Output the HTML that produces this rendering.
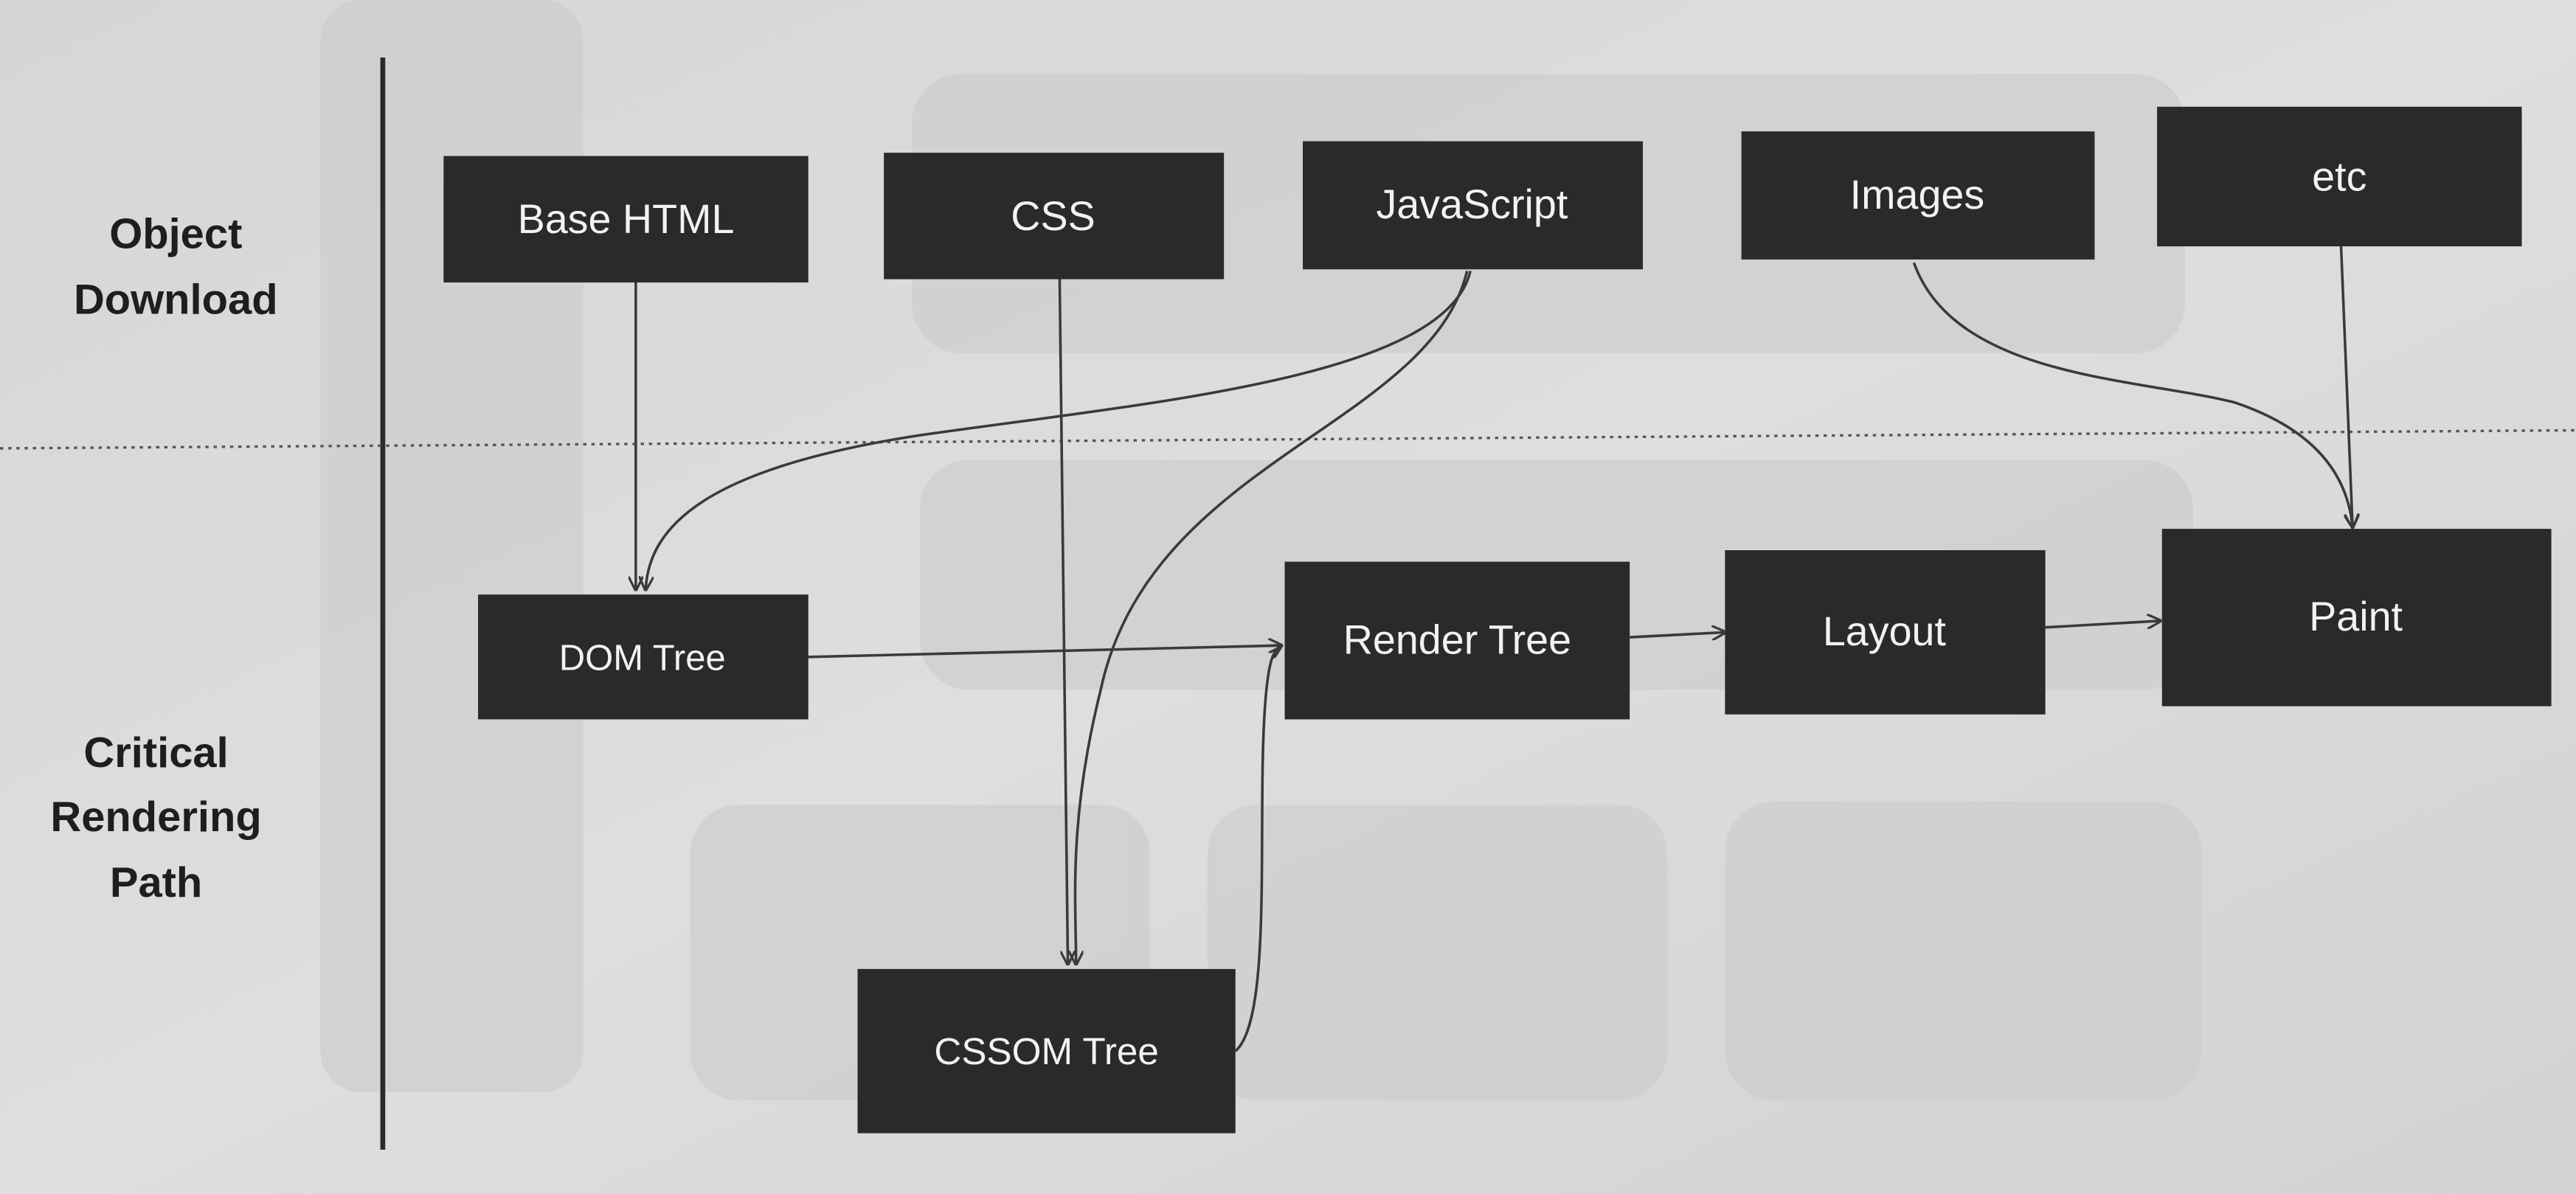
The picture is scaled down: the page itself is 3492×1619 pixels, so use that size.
<!DOCTYPE html>
<html><head><meta charset="utf-8"><style>
html,body{margin:0;padding:0;width:3492px;height:1619px;overflow:hidden;background:#d9d9d9}
svg{display:block}
</style></head><body>
<svg width="3492" height="1619" viewBox="0 0 1568 727" preserveAspectRatio="none" xmlns="http://www.w3.org/2000/svg">
<defs>
<linearGradient id="bg" x1="0" y1="0" x2="1" y2="1">
<stop offset="0" stop-color="#d6d6d6"/><stop offset="0.5" stop-color="#dedede"/><stop offset="1" stop-color="#d2d2d2"/>
</linearGradient>
<marker id="ar" viewBox="0 0 10 10" refX="9" refY="5" markerWidth="9" markerHeight="9" orient="auto" markerUnits="userSpaceOnUse">
<path d="M0,0 L10,5 L0,10" fill="none" stroke="#3a3a3a" stroke-width="1.6"/>
</marker>
</defs>
<rect width="1568" height="727" fill="url(#bg)"/>
<!-- ghost shapes -->
<g fill="#cdcdcd" opacity="0.7">
<rect x="195" y="0" width="160" height="665" rx="25"/>
<rect x="555" y="45" width="775" height="170" rx="30"/>
<rect x="560" y="280" width="775" height="140" rx="30"/>
<rect x="420" y="490" width="280" height="180" rx="30"/>
<rect x="735" y="490" width="280" height="180" rx="30"/>
<rect x="1050" y="488" width="290" height="182" rx="30"/>
</g>
<!-- vertical divider -->
<line x1="233" y1="35" x2="233" y2="700" stroke="#2a2a2a" stroke-width="3"/>
<!-- dotted line -->
<line x1="0" y1="273" x2="1568" y2="262" stroke="#555" stroke-width="1.5" stroke-dasharray="2,3"/>
<!-- side labels -->
<g font-family="Liberation Sans, sans-serif" font-weight="bold" font-size="26" fill="#1e1e1e" text-anchor="middle">
<text x="107" y="151">Object</text>
<text x="107" y="191">Download</text>
<text x="95" y="467">Critical</text>
<text x="95" y="506">Rendering</text>
<text x="95" y="546">Path</text>
</g>
<!-- connectors -->
<g fill="none" stroke="#3a3a3a" stroke-width="1.6" marker-end="url(#ar)">
<path d="M387,172 L387,359"/>
<path d="M645,170 L650,587"/>
<path d="M895,165 C880,230 700,245 560,265 C430,285 395,320 393,359"/>
<path d="M893,165 C870,260 700,280 670,420 C650,500 655,550 655,587"/>
<path d="M1165,160 C1190,230 1300,230 1360,245 C1420,265 1430,300 1432,321"/>
<path d="M1425,150 L1432,321"/>
<path d="M492,400 L780,393"/>
<path d="M752,640 C775,620 765,500 770,430 C772,402 775,396 780,393"/>
<path d="M992,388 L1050,385"/>
<path d="M1245,382 L1315,378"/>
</g>
<!-- boxes -->
<g fill="#2a2a2a">
<rect x="270" y="95" width="222" height="77"/>
<rect x="538" y="93" width="207" height="77"/>
<rect x="793" y="86" width="207" height="78"/>
<rect x="1060" y="80" width="215" height="78"/>
<rect x="1313" y="65" width="222" height="85"/>
<rect x="291" y="362" width="201" height="76"/>
<rect x="782" y="342" width="210" height="96"/>
<rect x="1050" y="335" width="195" height="100"/>
<rect x="1316" y="322" width="237" height="108"/>
<rect x="522" y="590" width="230" height="100"/>
</g>
<g font-family="Liberation Sans, sans-serif" font-size="25" fill="#f2f2f2" text-anchor="middle">
<text x="381" y="142">Base HTML</text>
<text x="641" y="140">CSS</text>
<text x="896" y="133">JavaScript</text>
<text x="1167" y="127">Images</text>
<text x="1424" y="116">etc</text>
<text x="391" y="408" font-size="22">DOM Tree</text>
<text x="887" y="398">Render Tree</text>
<text x="1147" y="393">Layout</text>
<text x="1434" y="384">Paint</text>
<text x="637" y="648" font-size="23">CSSOM Tree</text>
</g>
</svg>
</body></html>
